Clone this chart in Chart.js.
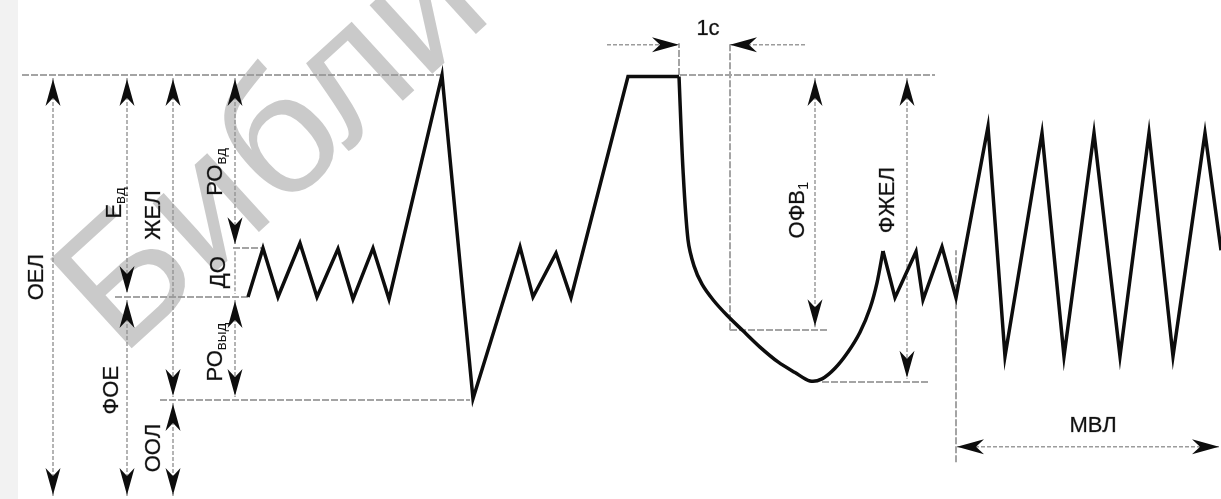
<!DOCTYPE html>
<html>
<head>
<meta charset="utf-8">
<title>Спирограмма</title>
<script src="https://cdn.jsdelivr.net/npm/chart.js@4"></script>
<style>
  html, body { margin: 0; padding: 0; background: #ffffff; }
  #wrap { width: 1221px; height: 499px; position: relative; }
</style>
</head>
<body>
<div id="wrap"><canvas id="spiro"></canvas></div>
<script>
// Time in seconds, volume in litres.

// Quiet breathing, maximal inspiration and expiration, slow VC, hold at TLC
const slowTime   = [4.96, 5.26, 5.56, 6.00, 6.34, 6.76, 7.06, 7.46, 7.78, 8.84, 9.46, 10.40, 10.66, 11.12, 11.42, 12.56, 13.58];
const slowVolume = [2.86, 3.55, 2.86, 3.62, 2.86, 3.54, 2.83, 3.55, 2.83, 6.00, 1.42, 3.57, 2.86, 3.48, 2.85, 5.98, 5.98];

// Forced expiration and the following inspiration
const forcedTime   = [13.58, 13.66, 13.76, 13.88, 14.04, 14.26, 14.54, 14.86, 15.20, 15.56, 15.90, 16.20, 16.44, 16.70, 16.96, 17.20, 17.40, 17.54, 17.66];
const forcedVolume = [5.98, 4.66, 3.67, 3.30, 3.04, 2.82, 2.60, 2.38, 2.15, 1.94, 1.79, 1.67, 1.70, 1.85, 2.08, 2.36, 2.70, 3.06, 3.51];

// Recovery breaths and maximal voluntary ventilation
const mvvTime   = [17.66, 17.90, 18.32, 18.46, 18.84, 19.12, 19.76, 20.10, 20.84, 21.28, 21.88, 22.40, 22.98, 23.46, 24.10, 24.42];
const mvvVolume = [3.51, 2.85, 3.50, 2.82, 3.57, 2.85, 5.27, 2.02, 5.18, 2.02, 5.18, 2.02, 5.18, 2.02, 5.18, 3.52];

// Axis extents
const timeRange   = [0, 24.42];
const volumeRange = [0, 7.063];

// Horizontal guide lines: volume level, start time, end time
const guideVolume = [6.00, 6.00, 3.55, 2.86, 1.40, 2.39, 1.66];
const guideStart  = [0.44, 13.60, 4.66, 2.30, 3.20, 14.60, 16.44];
const guideEnd    = [8.84, 18.70, 5.24, 5.00, 9.40, 16.54, 18.60];

// Vertical guide lines: time, lower volume, upper volume
const markTime  = [13.58, 14.60, 19.12];
const markLow   = [6.00, 2.39, 0.52];
const markHigh  = [6.45, 6.45, 3.52];

// Vertical dimension arrows: time, lower volume, upper volume, heads
const spanTime  = [1.06, 2.54, 2.54, 3.46, 3.46, 4.70, 4.70, 4.70, 16.30, 18.14];
const spanLow   = [0.00, 2.86, 0.00, 1.40, 0.00, 3.55, 2.86, 1.40, 2.39, 1.66];
const spanHigh  = [6.00, 6.00, 2.86, 6.00, 1.40, 6.00, 3.55, 2.86, 6.00, 6.00];
const spanHeads = [true, true, true, true, true, true, false, true, true, true];

// Horizontal dimension arrows: volume, tail time, tip time, double-headed
const runVolume = [6.43, 6.43, 0.74];
const runTail   = [12.14, 16.10, 19.14];
const runTip    = [13.58, 14.60, 24.38];
const runBoth   = [false, false, true];

// Captions: text, subscript, anchor time, anchor volume, vertical
const capText   = ['ОЕЛ', 'Е', 'ФОЕ', 'ЖЕЛ', 'ООЛ', 'РО', 'ДО', 'РО', 'ОФВ', 'ФЖЕЛ', 'МВЛ', '1с'];
const capSub    = ['', 'вд', '', '', '', 'вд', '', 'выд', '1', '', '', ''];
const capTime   = [0.70, 2.26, 2.20, 3.04, 3.04, 4.28, 4.34, 4.28, 15.92, 17.72, 21.86, 14.16];
const capVolume = [3.14, 4.19, 1.54, 4.02, 0.72, 4.63, 3.21, 2.08, 4.09, 4.23, 1.06, 6.68];
const capTurned = [true, true, true, true, true, true, true, true, true, true, false, false];

const pts = (xs, ys) => xs.map((x, i) => ({ x, y: ys[i] }));

const FONT = '"Liberation Sans", Arial, sans-serif';
const mainFont = '22px ' + FONT;
const subFont = '15px ' + FONT;

function arrowHead(ctx, x, y, ang) {
  ctx.save();
  ctx.translate(x, y);
  ctx.rotate(ang);
  ctx.beginPath();
  ctx.moveTo(0, 0);
  ctx.lineTo(-27, -7.5);
  ctx.lineTo(-19, 0);
  ctx.lineTo(-27, 7.5);
  ctx.closePath();
  ctx.fillStyle = '#0d0d0d';
  ctx.fill();
  ctx.restore();
}

function caption(ctx, x, y, main, sub, turned) {
  ctx.save();
  ctx.translate(x, y);
  if (turned) ctx.rotate(-Math.PI / 2);
  ctx.font = mainFont;
  const wm = ctx.measureText(main).width;
  ctx.font = subFont;
  const ws = sub ? ctx.measureText(sub).width : 0;
  const start = -(wm + ws) / 2;
  ctx.fillStyle = '#111111';
  ctx.strokeStyle = 'rgba(17,17,17,0.45)';
  ctx.lineWidth = 0.6;
  ctx.textBaseline = 'alphabetic';
  ctx.font = mainFont;
  ctx.fillText(main, start, 8);
  ctx.strokeText(main, start, 8);
  if (sub) {
    ctx.font = subFont;
    ctx.fillText(sub, start + wm, 12);
  }
  ctx.restore();
}

const spiroDecor = {
  id: 'spiroDecor',
  beforeDatasetsDraw(chart) {
    const { ctx, scales: { x, y } } = chart;
    ctx.save();
    // paper tone at the left edge
    ctx.fillStyle = '#f2f2f2';
    ctx.fillRect(0, 0, 18, chart.height);

    // guide lines
    ctx.strokeStyle = '#a4a4a4';
    ctx.lineWidth = 2;
    ctx.setLineDash([7, 2]);
    guideVolume.forEach((v, i) => {
      const py = Math.round(y.getPixelForValue(v));
      ctx.beginPath();
      ctx.moveTo(x.getPixelForValue(guideStart[i]), py);
      ctx.lineTo(x.getPixelForValue(guideEnd[i]), py);
      ctx.stroke();
    });
    markTime.forEach((t, i) => {
      const px = Math.round(x.getPixelForValue(t));
      ctx.beginPath();
      ctx.moveTo(px, y.getPixelForValue(markLow[i]));
      ctx.lineTo(px, y.getPixelForValue(markHigh[i]));
      ctx.stroke();
    });

    // dimension shafts
    ctx.strokeStyle = '#9c9c9c';
    ctx.lineWidth = 1.5;
    ctx.setLineDash([4, 2]);
    spanTime.forEach((t, i) => {
      const px = x.getPixelForValue(t);
      ctx.beginPath();
      ctx.moveTo(px, y.getPixelForValue(spanHigh[i]) + 3);
      ctx.lineTo(px, y.getPixelForValue(spanLow[i]) - 3);
      ctx.stroke();
    });
    runVolume.forEach((v, i) => {
      const py = y.getPixelForValue(v);
      ctx.beginPath();
      ctx.moveTo(x.getPixelForValue(runTail[i]), py);
      ctx.lineTo(x.getPixelForValue(runTip[i]), py);
      ctx.stroke();
    });
    ctx.setLineDash([]);

    // library stamp across the upper left
    ctx.translate(121, 358);
    ctx.rotate(-0.74);
    ctx.font = '176px ' + FONT;
    ctx.fillStyle = 'rgba(150,150,150,0.5)';
    ctx.fillText('Библиотека', 0, 0);
    ctx.restore();
  },
  afterDatasetsDraw(chart) {
    const { ctx, scales: { x, y } } = chart;
    ctx.save();
    const gap = 4;
    spanTime.forEach((t, i) => {
      if (!spanHeads[i]) return;
      const px = x.getPixelForValue(t);
      arrowHead(ctx, px, y.getPixelForValue(spanHigh[i]) + gap, -Math.PI / 2);
      arrowHead(ctx, px, y.getPixelForValue(spanLow[i]) - gap, Math.PI / 2);
    });
    runVolume.forEach((v, i) => {
      const py = y.getPixelForValue(v);
      const a = x.getPixelForValue(runTail[i]);
      const b = x.getPixelForValue(runTip[i]);
      const dir = b > a ? 0 : Math.PI;
      arrowHead(ctx, b, py, dir);
      if (runBoth[i]) arrowHead(ctx, a, py, dir + Math.PI);
    });
    capText.forEach((s, i) => {
      caption(ctx, x.getPixelForValue(capTime[i]), y.getPixelForValue(capVolume[i]), s, capSub[i], capTurned[i]);
    });
    ctx.restore();
  }
};

const traceStyle = {
  borderColor: '#0d0d0d',
  borderWidth: 3.5,
  pointRadius: 0,
  showLine: true,
  fill: false,
  borderJoinStyle: 'miter'
};

new Chart(document.getElementById('spiro'), {
  type: 'scatter',
  data: {
    datasets: [
      Object.assign({ label: 'Спокойное дыхание, ЖЕЛ', data: pts(slowTime, slowVolume), tension: 0 }, traceStyle),
      Object.assign({ label: 'Форсированный выдох', data: pts(forcedTime, forcedVolume), tension: 0.3 }, traceStyle),
      Object.assign({ label: 'МВЛ', data: pts(mvvTime, mvvVolume), tension: 0 }, traceStyle)
    ]
  },
  options: {
    responsive: true,
    maintainAspectRatio: false,
    animation: false,
    layout: { padding: 0 },
    plugins: { legend: { display: false }, tooltip: { enabled: false } },
    scales: {
      x: { type: 'linear', min: timeRange[0], max: timeRange[1], display: false },
      y: { type: 'linear', min: volumeRange[0], max: volumeRange[1], display: false }
    }
  },
  plugins: [spiroDecor]
});
</script>
</body>
</html>
